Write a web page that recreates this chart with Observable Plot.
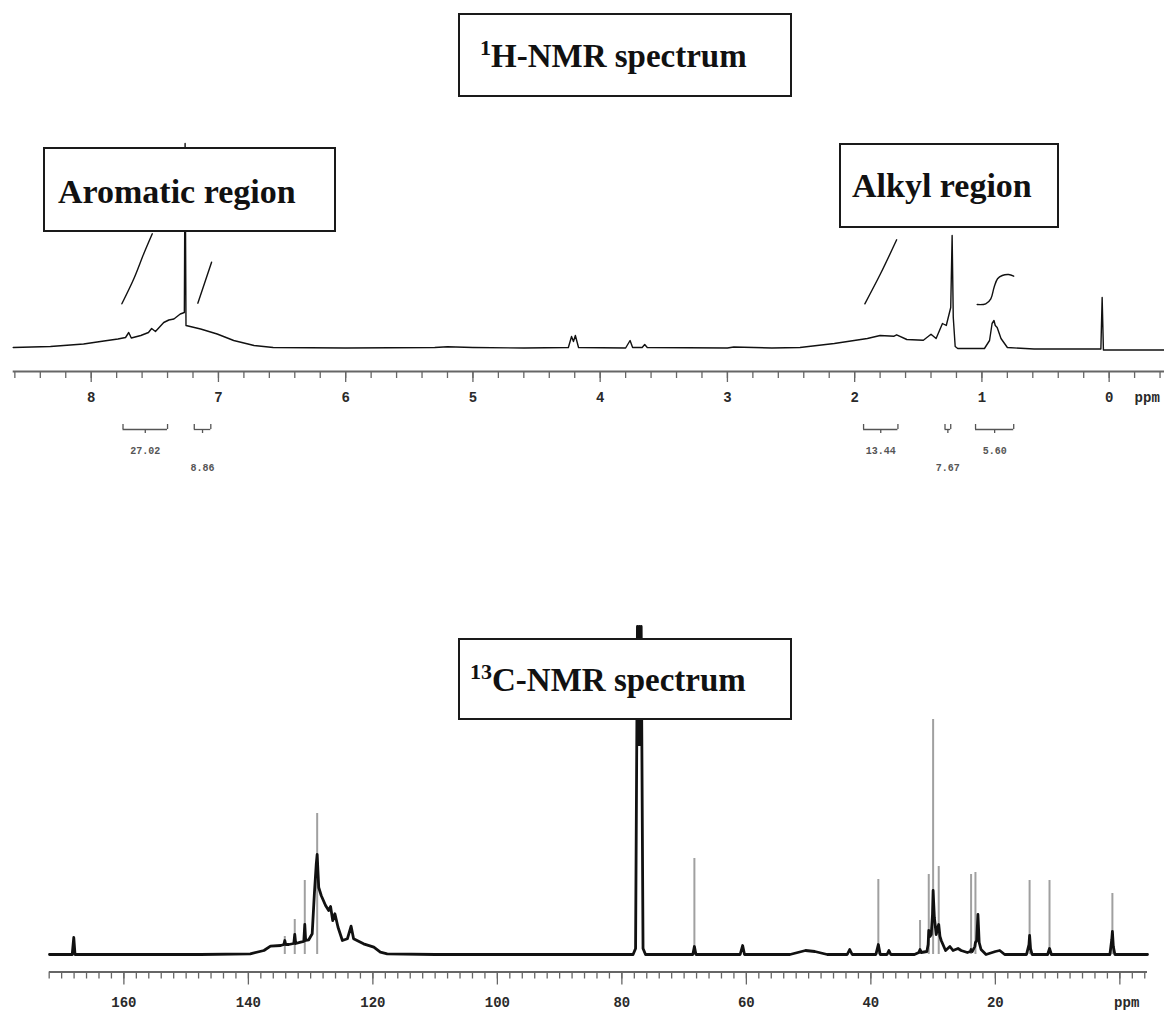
<!DOCTYPE html>
<html><head><meta charset="utf-8">
<script src="https://cdn.jsdelivr.net/npm/d3@7"></script>
<script src="https://cdn.jsdelivr.net/npm/@observablehq/plot@0.6"></script>
<style>
body{margin:0;background:#fff;}
#wrap{position:relative;width:1164px;height:1010px;overflow:hidden;background:#fff;}
.plotbox{position:absolute;left:0;}
.box{position:absolute;border:2px solid #1a1a1a;background:#fff;box-sizing:border-box;}
.lbl{position:absolute;font-family:"Liberation Serif","Times New Roman",serif;font-weight:bold;font-size:34px;line-height:34px;color:#111;white-space:nowrap;}
.lbl.title{font-size:33px;line-height:34px;}
.lbl sup{font-size:22px;vertical-align:12px;line-height:0;}
</style></head>
<body><div id="wrap">
<div id="h1plot" class="plotbox" style="top:0"></div>
<div id="c13plot" class="plotbox" style="top:480px"></div>
</div>
<script>
// ---------- 1H-NMR spectrum (ppm, relative intensity) ----------
const hPpm = [8.613, 8.32, 8.06, 7.90, 7.79, 7.73, 7.705, 7.685, 7.61, 7.55, 7.525, 7.495, 7.43, 7.39, 7.35, 7.30, 7.268, 7.262, 7.255, 7.14, 7.01, 6.88, 6.72, 6.57, 6.0, 5.3, 5.2, 5.0, 4.6, 4.25, 4.225, 4.21, 4.195, 4.17, 3.8, 3.765, 3.745, 3.67, 3.65, 3.63, 3.0, 2.95, 2.65, 2.43, 2.16, 1.90, 1.80, 1.69, 1.67, 1.59, 1.46, 1.40, 1.36, 1.31, 1.28, 1.245, 1.234, 1.225, 1.21, 1.19, 0.98, 0.94, 0.92, 0.905, 0.895, 0.88, 0.85, 0.80, 0.59, 0.065, 0.055, 0.045, -0.435];
const hInt = [0, 1, 3.5, 6.5, 8.5, 10, 15, 9.5, 12, 15, 19, 16, 25, 27.5, 28.5, 33.5, 35, 204, 22, 18.5, 13.5, 7, 2, 0, -0.5, 0, 0.8, 0, -0.5, 0, 11, 6, 12, 0, -0.5, 7, 0, 0, 3, 0, -0.5, 0.5, -0.5, 0, 4, 9, 12, 11.3, 12.7, 8, 7.3, 13.3, 9, 24, 22, 40, 112, 30, 1, -1, -1, 7, 24, 27, 22, 20, 9, 0, -1.5, -1.5, 50, -2.5, -2.5];

// integral traces drawn over the spectrum
const intAro1Ppm = [7.759, 7.665, 7.587, 7.52];
const intAro1Val = [43.7, 68.7, 93.7, 113.7];
const intAro2Ppm = [7.162, 7.054];
const intAro2Val = [44.3, 85.3];
const intAlk1Ppm = [1.92, 1.797, 1.67];
const intAlk1Val = [43.7, 73.7, 107.7];
const intAlk2Ppm = [1.037, 0.97, 0.93, 0.904, 0.877, 0.84, 0.79, 0.75];
const intAlk2Val = [43, 43.7, 48.7, 60.3, 68.7, 72, 73, 71.3];

// integral brackets below the axis
const integFrom = [7.75, 7.19, 1.93, 1.29, 1.05];
const integTo = [7.40, 7.06, 1.66, 1.245, 0.75];
const integLabels = ["27.02", "8.86", "13.44", "7.67", "5.60"];
const integRow = [0, 1, 0, 1, 0];

const hTickLabels = [8, 7, 6, 5, 4, 3, 2, 1, 0];

// ---------- 13C-NMR spectrum ----------
const cLinePpm = [171.95, 168.3, 168.05, 167.85, 147.7, 139.7, 137.5, 136.45, 134.8, 134.3, 134.15, 134.0, 133.5, 132.7, 132.55, 132.4, 131.6, 131.1, 130.94, 130.8, 130.3, 129.75, 129.4, 129.1, 128.95, 128.8, 128.7, 128.3, 127.6, 127.1, 126.8, 126.45, 126.1, 125.6, 124.9, 124.1, 123.5, 123.1, 121.5, 119.85, 118.8, 117.7, 110, 95, 85, 78.2, 77.8, 77.5, 77.35, 77.2, 77.05, 76.9, 76.6, 76.2, 68.6, 68.35, 68.1, 61, 60.6, 60.3, 53, 50.5, 49, 47, 43.8, 43.4, 43.0, 39.2, 38.8, 38.5, 37.4, 37.1, 36.8, 33, 32.3, 32.1, 31.9, 31.0, 30.8, 30.7, 30.5, 30.3, 30.1, 30.0, 29.9, 29.8, 29.5, 29.2, 29.1, 28.9, 28.7, 28.0, 27.3, 26.8, 26.0, 25.5, 24.5, 24.0, 23.9, 23.7, 23.3, 23.2, 23.0, 22.8, 22.6, 22.3, 21.5, 20, 19.3, 18.5, 15, 14.6, 14.5, 14.35, 14.1, 11.6, 11.3, 11.0, 1.6, 1.3, 1.2, 1.05, 0.8, -4.44];
const cLineInt = [0, 0, 17, 0, 0, 0.7, 4, 8.3, 9, 10, 14, 10, 10, 11, 20, 11, 12.3, 13, 30, 14, 14.7, 20.7, 60.7, 90, 100, 80, 67, 59, 49, 44, 48, 34, 40.7, 27.3, 14, 15.7, 28.3, 15.7, 10.7, 7.3, 2.3, 0.7, 0, 0, 0, 0, 6, 328, 210, 328, 210, 328, 6, 0, 0, 8, 0, 0, 9, 0, 0, 4, 3, 0, 0, 5, 0, 0, 10, 0, 0, 4, 0, 0, 2, 5, 2, 3, 10, 24, 18, 20, 40, 64, 50, 37, 20, 28, 30, 18, 14, 4, 8, 4, 6, 4, 2, 3, 5, 3, 8, 12, 14, 40, 12, 5, 0, 3, 4, 0, 0, 10, 19, 6, 0, 0, 6, 0, 0, 15, 23, 8, 0, 0];

// sharp (thin) peaks
const cPeakPpm = [134.15, 132.55, 130.94, 128.95, 68.35, 38.8, 32.1, 30.7, 30.0, 29.1, 23.9, 23.2, 14.5, 11.3, 1.2];
const cPeakTop = [18, 35, 74, 141, 96, 75, 34, 80, 235, 88, 80, 82, 74, 74, 61];

const cTickLabels = [160, 140, 120, 100, 80, 60, 40, 20];
const cUnitLabel = ["ppm"];
const hUnitLabel = ["ppm"];

// ---------- build rows ----------
const hRows = hPpm.map((p, i) => ({ppm: p, v: hInt[i]}));
const integCurves = [
  [intAro1Ppm, intAro1Val], [intAro2Ppm, intAro2Val],
  [intAlk1Ppm, intAlk1Val], [intAlk2Ppm, intAlk2Val]
].flatMap(([ps, vs], k) => ps.map((p, i) => ({ppm: p, v: vs[i], id: k})));
const integ = integFrom.map((f, i) => ({from: f, to: integTo[i], mid: (f + integTo[i]) / 2, label: integLabels[i], row: integRow[i]}));

const cRows = cLinePpm.map((p, i) => ({ppm: p, v: cLineInt[i]}));
const cPeaks = cPeakPpm.map((p, i) => ({ppm: p, top: cPeakTop[i]}));

const hMinor = d3.range(-2, 44).map(i => i / 5);
const cMinor = d3.range(-2, 87).map(i => i * 2);

const axisFont = {fontFamily: "'Liberation Mono', 'DejaVu Sans Mono', monospace", fontSize: "14px", fontWeight: "bold"};

// ---------- 1H plot ----------
const h1 = Plot.plot({
  width: 1164, height: 480,
  marginLeft: 12.7, marginRight: 0, marginTop: 0, marginBottom: 109,
  style: {...axisFont, background: "transparent"},
  x: {domain: [8.613, -0.435]},
  y: {domain: [-24, 347], axis: null},
  marks: [
    Plot.ruleY([-24], {x1: 8.613, x2: -0.435, stroke: "#666", strokeWidth: 2}),
    Plot.axisX(hMinor, {tickSize: 7, fill: "none", stroke: "#666", strokeWidth: 1.3, label: null}),
    Plot.axisX(hTickLabels, {tickSize: 11, tickPadding: 10, stroke: "#666", strokeWidth: 1.3, fill: "#2a2a2a", label: null, tickFormat: d => String(d)}),
    Plot.text(hUnitLabel, {x: () => -0.2, y: () => -45, textAnchor: "start", lineAnchor: "top", fill: "#2a2a2a"}),
    Plot.line(hRows, {x: "ppm", y: "v", stroke: "#111", strokeWidth: 1.4}),
    Plot.line(integCurves, {x: "ppm", y: "v", z: "id", stroke: "#111", strokeWidth: 1.4, curve: "catmull-rom"}),
    Plot.ruleY(integ, {x1: "from", x2: "to", y: () => -82, stroke: "#555", strokeWidth: 1.3}),
    Plot.ruleX(integ, {x: "from", y1: -82, y2: -77, stroke: "#555", strokeWidth: 1.3}),
    Plot.ruleX(integ, {x: "to", y1: -82, y2: -77, stroke: "#555", strokeWidth: 1.3}),
    Plot.ruleX(integ, {x: "mid", y1: -82, y2: -86, stroke: "#555", strokeWidth: 1.3}),
    Plot.text(integ, {x: "mid", y: d => d.row === 0 ? -103 : -120, text: "label", fontSize: 10, fontWeight: "bold", fill: "#555"})
  ]
});
document.getElementById("h1plot").appendChild(h1);

// ---------- 13C plot ----------
const c13 = Plot.plot({
  width: 1164, height: 530,
  marginLeft: 49, marginRight: 17, marginTop: 0, marginBottom: 38.5,
  style: {...axisFont, background: "transparent"},
  x: {domain: [171.95, -4.44]},
  y: {domain: [-17.5, 474], axis: null},
  marks: [
    Plot.ruleY([-17.5], {x1: 171.95, x2: -4.44, stroke: "#666", strokeWidth: 2}),
    Plot.axisX(cMinor, {tickSize: 7, fill: "none", stroke: "#666", strokeWidth: 1.3, label: null}),
    Plot.axisX([...cTickLabels, 0], {tickSize: 13, fill: "none", stroke: "#666", strokeWidth: 1.3, label: null}),
    Plot.text(cTickLabels, {x: d => d, y: () => -43, text: d => String(d), lineAnchor: "top", fill: "#2a2a2a"}),
    Plot.text(cUnitLabel, {x: () => -1.1, y: () => -43, lineAnchor: "top", fill: "#2a2a2a"}),
    Plot.ruleX(cPeaks, {x: "ppm", y1: 0, y2: "top", stroke: "#a0a0a0", strokeWidth: 2}),
    Plot.line(cRows, {x: "ppm", y: "v", stroke: "#111", strokeWidth: 2.8})
  ]
});
document.getElementById("c13plot").appendChild(c13);

// ---------- label boxes ----------
const wrap = document.getElementById("wrap");
const boxes = [
  {l: 458, t: 13, w: 334, h: 84, tx: 480, ty: 38.5, cls: "lbl title", html: "<sup>1</sup>H-NMR spectrum"},
  {l: 43, t: 147, w: 293, h: 85, tx: 58, ty: 174.5, cls: "lbl", html: "Aromatic region"},
  {l: 839, t: 143, w: 220, h: 85, tx: 852, ty: 168.5, cls: "lbl", html: "Alkyl region"},
  {l: 458, t: 638, w: 334, h: 82, tx: 470, ty: 662.5, cls: "lbl title", html: "<sup>13</sup>C-NMR spectrum"}
];
for (const b of boxes) {
  const d = document.createElement("div");
  d.className = "box";
  d.style.cssText = `left:${b.l}px;top:${b.t}px;width:${b.w}px;height:${b.h}px;`;
  wrap.appendChild(d);
  const s = document.createElement("div");
  s.className = b.cls;
  s.style.cssText = `left:${b.tx}px;top:${b.ty}px;`;
  s.innerHTML = b.html;
  wrap.appendChild(s);
}
</script>
</body></html>
